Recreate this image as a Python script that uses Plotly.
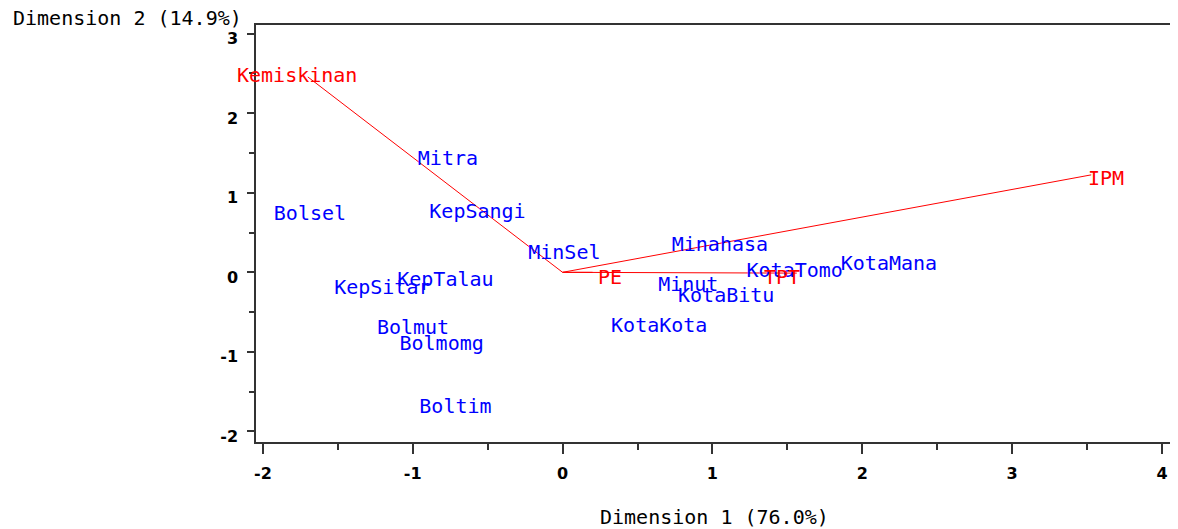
import plotly.graph_objects as go

# Observations (row points)
obs_names = ["Mitra", "Bolsel", "KepSangi", "MinSel", "Minahasa", "KotaMana",
             "KotaTomo", "KepTalau", "KepSitar", "Minut", "KotaBitu", "KotaKota",
             "Bolmut", "Bolmomg", "Boltim"]
obs_dim1 = [-0.765, -1.686, -0.568, 0.012, 1.050, 2.178,
            1.549, -0.782, -1.203, 0.839, 1.092, 0.645,
            -0.998, -0.807, -0.715]
obs_dim2 = [1.417, 0.721, 0.746, 0.231, 0.337, 0.093,
            0.010, -0.105, -0.208, -0.166, -0.313, -0.690,
            -0.718, -0.919, -1.707]

# Variables (vectors)
var_names = ["Kemiskinan", "IPM", "PE", "TPT"]
var_dim1 = [-1.700, 3.528, 0.200, 1.563]
var_dim2 = [2.456, 1.225, 0.000, -0.010]

x_tick_vals = [-2, -1, 0, 1, 2, 3, 4]
y_tick_vals = [-2, -1, 0, 1, 2, 3]
x_title = "Dimension 1 (76.0%)"
y_title = "Dimension 2 (14.9%)"

# label offsets in pixels (style)
var_label_shift = {"Kemiskinan": (-11, 2), "IPM": (15, -3), "PE": (17, -5), "TPT": (-15, -4)}

MONO = "DejaVu Sans Mono"
FS = 20
fig = go.Figure()

for n, x, y in zip(var_names, var_dim1, var_dim2):
    fig.add_trace(go.Scatter(x=[0, x], y=[0, y], mode="lines",
                             line=dict(color="#ff0000", width=1),
                             hoverinfo="skip", showlegend=False))

fig.add_trace(go.Scatter(x=obs_dim1, y=obs_dim2, mode="text", text=obs_names,
                         textposition="middle center",
                         textfont=dict(family=MONO, size=FS, color="#0000ff"),
                         showlegend=False))

for n, x, y in zip(var_names, var_dim1, var_dim2):
    dx, dy = var_label_shift[n]
    fig.add_annotation(x=x, y=y, text=n, showarrow=False, xshift=dx, yshift=dy,
                       xanchor="center", yanchor="middle",
                       font=dict(family=MONO, size=FS, color="#ff0000"))

# figure is drawn inside an 8px page margin
fig.add_annotation(xref="paper", yref="paper", x=0.5, y=-0.18, text=x_title,
                   showarrow=False, xanchor="center", yanchor="middle",
                   font=dict(family=MONO, size=FS, color="black"))
fig.add_annotation(xref="paper", yref="paper", x=-0.268, y=1.0, yshift=7, text=y_title,
                   showarrow=False, xanchor="left", yanchor="middle",
                   font=dict(family=MONO, size=FS, color="black"))

axis_common = dict(showgrid=False, zeroline=False, showline=True, mirror=True,
                   linecolor="#333333", linewidth=1.5, ticks="outside",
                   tickcolor="#333333", tickwidth=1.5,
                   tickfont=dict(family="DejaVu Sans", size=16, color="black", weight="bold"))

fig.update_xaxes(range=[-2.046, 4.067], tickvals=x_tick_vals, ticklen=10,
                 ticktext=[str(v) for v in x_tick_vals], ticklabelstandoff=6,
                 minor=dict(dtick=0.5, tick0=0, ticks="outside", ticklen=6,
                            tickcolor="#333333", tickwidth=1.5, showgrid=False),
                 **axis_common)
fig.update_yaxes(range=[-2.133, 3.109], tickvals=y_tick_vals, ticklen=7,
                 ticktext=[str(v) for v in y_tick_vals], ticklabelstandoff=6,
                 ticklabelshift=5,
                 minor=dict(dtick=0.5, tick0=0, ticks="outside", ticklen=5,
                            tickcolor="#333333", tickwidth=1.5, showgrid=False),
                 **axis_common)

fig.update_layout(width=1170, height=521, margin=dict(l=248, r=4, t=17, b=87),
                  plot_bgcolor="white", paper_bgcolor="white")

fig.write_html("out.html")
